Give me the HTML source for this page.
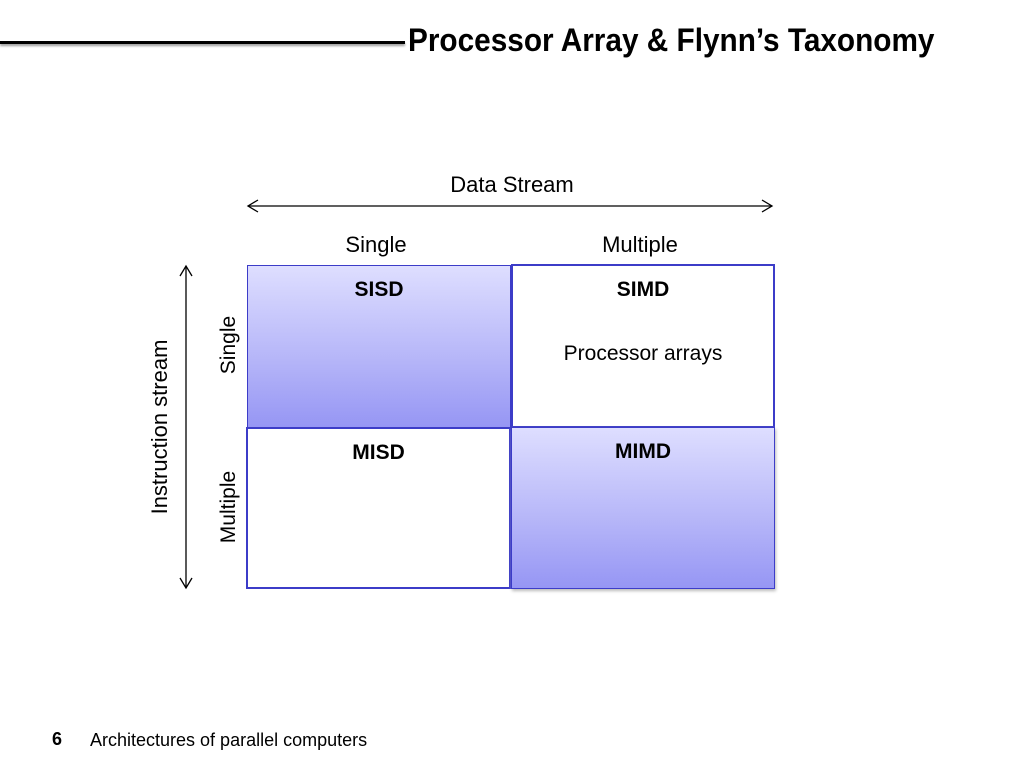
<!DOCTYPE html>
<html><head><meta charset="utf-8"><style>
body{margin:0;width:1024px;height:768px;background:#fff;position:relative;overflow:hidden;font-family:"Liberation Sans",sans-serif;color:#000}
.a{position:absolute;white-space:nowrap}
.box{position:absolute;box-sizing:border-box;border:2px solid #3c3cc8}
.g{background:linear-gradient(#dedeff,#b4b4f8 60%,#9696f4)}
.lbl{position:absolute;left:0;right:0;text-align:center;font-weight:bold;font-size:21px;top:12px}
.rot{position:absolute;transform:translate(-50%,-50%) rotate(-90deg);white-space:nowrap;font-size:21px}
</style></head><body>
<div class="a" style="left:0;top:41px;width:405px;height:3px;background:#000;box-shadow:0 2px 2px #999"></div>
<div class="a" style="left:408px;top:22px;font-family:'Liberation Sans Narrow','Liberation Sans',sans-serif;font-weight:bold;font-size:32px;transform-origin:left;transform:scaleX(0.93)">Processor Array &amp; Flynn’s Taxonomy</div>
<div class="a" style="left:0;width:1024px;text-align:center;top:172px;font-size:22px">Data Stream</div>
<svg class="a" style="left:0;top:0" width="1024" height="768">
<g stroke="#000" stroke-width="1.3" fill="none">
<line x1="248" y1="206" x2="772" y2="206"/>
<polyline points="258,200 248,206 258,212"/><polyline points="762,200 772,206 762,212"/>
<line x1="186" y1="266" x2="186" y2="588"/>
<polyline points="180,276 186,266 192,276"/><polyline points="180,578 186,588 192,578"/>
</g></svg>
<div class="a" style="left:276px;width:200px;text-align:center;top:232px;font-size:22px">Single</div>
<div class="a" style="left:540px;width:200px;text-align:center;top:232px;font-size:22px">Multiple</div>
<div class="rot" style="left:160px;top:427px;font-size:22px">Instruction stream</div>
<div class="rot" style="left:229px;top:345px">Single</div>
<div class="rot" style="left:229px;top:507px">Multiple</div>
<div class="box g" style="left:247px;top:265px;width:264px;height:163px;border-width:1px"><div class="lbl">SISD</div></div>
<div class="box" style="left:511px;top:264px;width:264px;height:164px"><div class="lbl">SIMD</div><div style="position:absolute;left:0;right:0;text-align:center;top:76px;font-size:21px">Processor arrays</div></div>
<div class="box" style="left:246px;top:427px;width:265px;height:162px"><div class="lbl">MISD</div></div>
<div class="box g" style="left:511px;top:427px;width:264px;height:162px;border-width:1px;box-shadow:1px 2px 3px #bbb"><div class="lbl">MIMD</div></div>
<div class="a" style="left:52px;top:729px;font-weight:bold;font-size:18px">6</div>
<div class="a" style="left:90px;top:730px;font-size:18px">Architectures of parallel computers</div>
</body></html>
